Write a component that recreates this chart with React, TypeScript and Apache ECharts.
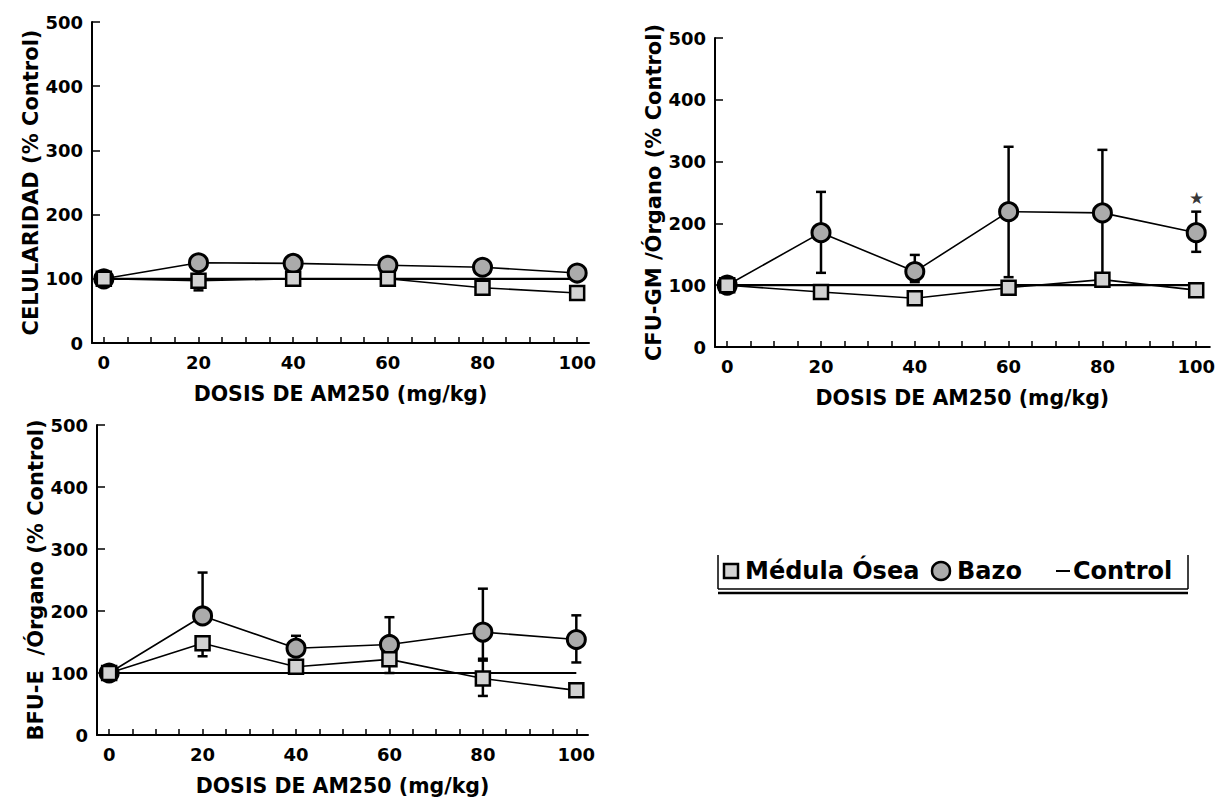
import React, { useEffect, useRef } from "react";
import * as echarts from "echarts";

const doses = [0, 20, 40, 60, 80, 100];
const xTickLabels = [0, 20, 40, 60, 80, 100];
const xMinorTicks = [0, 5, 10, 15, 20, 25, 30, 35, 40, 45, 50, 55, 60, 65, 70, 75, 80, 85, 90, 95, 100];

// Panel 1: CELULARIDAD
const p1Medula = [100, 97, 100, 100, 86, 78];
const p1Bazo = [100, 125, 124, 121, 118, 109];
const p1MedulaErrLow = [null, 82, null, null, null, null];
const p1MedulaErrHigh = [null, null, null, null, null, null];
const p1BazoErrLow = [null, null, null, null, null, null];
const p1BazoErrHigh = [null, null, null, null, null, null];

// Panel 2: CFU-GM
const p2Medula = [100, 89, 79, 96, 109, 92];
const p2Bazo = [100, 185, 122, 219, 217, 185];
const p2MedulaErrLow = [null, null, null, null, null, null];
const p2MedulaErrHigh = [null, null, null, null, null, null];
const p2BazoErrLow = [null, 120, 105, 113, 110, 154];
const p2BazoErrHigh = [null, 251, 149, 324, 319, 219];
const p2Star = [100, 240];

// Panel 3: BFU-E
const p3Medula = [100, 148, 110, 122, 91, 72];
const p3Bazo = [100, 192, 140, 146, 166, 154];
const p3MedulaErrLow = [null, 127, null, 100, 63, null];
const p3MedulaErrHigh = [null, null, null, null, 120, null];
const p3BazoErrLow = [null, null, null, null, 123, 117];
const p3BazoErrHigh = [null, 262, 160, 190, 236, 193];

const control = [100, 100, 100, 100, 100, 100];

const yNames = ["CELULARIDAD (% Control)", "CFU-GM /Órgano (% Control)", "BFU-E  /Órgano (% Control)"];
const xName = "DOSIS DE AM250 (mg/kg)";
const seriesNames = ["Médula Ósea", "Bazo", "Control"];

const FONT = "DejaVu Sans";

const grids = [
  { left: 92, top: 22, width: 497, height: 321, xmin: -2.5, xmax: 102.5 },
  { left: 715, top: 38, width: 497, height: 309, xmin: -2.6, xmax: 102.9 },
  { left: 97, top: 425, width: 491, height: 310, xmin: -2.6, xmax: 102.5 },
];

function pairs(vals: number[]) {
  return doses.map((d, i) => [d, vals[i]]);
}

function errData(mean: number[], low: (number | null)[], high: (number | null)[]) {
  const out: number[][] = [];
  doses.forEach((d, i) => {
    if (low[i] != null) out.push([d, mean[i], low[i] as number]);
    if (high[i] != null) out.push([d, mean[i], high[i] as number]);
  });
  return out;
}

function errSeries(idx: number, data: number[][]) {
  return {
    type: "custom",
    xAxisIndex: idx,
    yAxisIndex: idx,
    z: 1,
    silent: true,
    data,
    renderItem: (params: any, api: any) => {
      const x = api.value(0);
      const m = api.coord([x, api.value(1)]);
      const e = api.coord([x, api.value(2)]);
      const style = { stroke: "#000", lineWidth: 2.5 };
      return {
        type: "group",
        children: [
          { type: "line", shape: { x1: m[0], y1: m[1], x2: e[0], y2: e[1] }, style },
          { type: "line", shape: { x1: e[0] - 5, y1: e[1], x2: e[0] + 5, y2: e[1] }, style },
        ],
      };
    },
  };
}

function panelSeries(idx: number, med: number[], bazo: number[], mLo: any[], mHi: any[], bLo: any[], bHi: any[]) {
  return [
    {
      name: seriesNames[2],
      type: "line",
      xAxisIndex: idx,
      yAxisIndex: idx,
      data: pairs(control),
      symbol: "none",
      lineStyle: { color: "#000", width: 2.2 },
      z: 2,
    },
    errSeries(idx, errData(bazo, bLo, bHi)),
    errSeries(idx, errData(med, mLo, mHi)),
    {
      name: seriesNames[0],
      type: "line",
      xAxisIndex: idx,
      yAxisIndex: idx,
      data: pairs(med),
      symbol: "rect",
      symbolSize: 14,
      lineStyle: { color: "#000", width: 1.6 },
      itemStyle: { color: "#d2d2d2", borderColor: "#000", borderWidth: 2.5 },
      z: 4,
    },
    {
      name: seriesNames[1],
      type: "line",
      xAxisIndex: idx,
      yAxisIndex: idx,
      data: pairs(bazo),
      symbol: "circle",
      symbolSize: 18,
      lineStyle: { color: "#000", width: 1.6 },
      itemStyle: { color: "#ababab", borderColor: "#000", borderWidth: 3 },
      z: 3,
    },
  ];
}

export default function App() {
  const ref = useRef<HTMLDivElement>(null);
  useEffect(() => {
    if (!ref.current) return;
    const chart = echarts.init(ref.current, null, { renderer: "svg" });
    const labelStyle = { fontFamily: FONT, fontWeight: "bold", fontSize: 18, color: "#000" };
    const nameStyle = { fontFamily: FONT, fontWeight: "bold", fontSize: 20.5, color: "#000" };

    const xAxes = grids.map((g, i) => ({
      type: "value",
      gridIndex: i,
      min: g.xmin,
      max: g.xmax,
      name: xName,
      nameLocation: "middle",
      nameGap: 40,
      nameTextStyle: nameStyle,
      axisLine: { show: true, onZero: false, lineStyle: { color: "#000", width: 2 } },
      axisTick: { show: true, inside: true, length: 6, customValues: xMinorTicks, lineStyle: { color: "#000", width: 1.5 } },
      axisLabel: { ...labelStyle, margin: 10, customValues: xTickLabels },
      splitLine: { show: false },
    }));
    const yAxes = grids.map((g, i) => ({
      type: "value",
      gridIndex: i,
      min: 0,
      max: 500,
      interval: 100,
      name: yNames[i],
      nameLocation: "middle",
      nameRotate: 90,
      nameGap: 46,
      nameTextStyle: { ...nameStyle, fontSize: 21 },
      axisLine: { show: true, onZero: false, lineStyle: { color: "#000", width: 2 } },
      axisTick: { show: true, inside: true, length: 8, lineStyle: { color: "#000", width: 1.5 } },
      axisLabel: { ...labelStyle, margin: 9 },
      splitLine: { show: false },
    }));

    const series: any[] = [
      ...panelSeries(0, p1Medula, p1Bazo, p1MedulaErrLow, p1MedulaErrHigh, p1BazoErrLow, p1BazoErrHigh),
      ...panelSeries(1, p2Medula, p2Bazo, p2MedulaErrLow, p2MedulaErrHigh, p2BazoErrLow, p2BazoErrHigh),
      ...panelSeries(2, p3Medula, p3Bazo, p3MedulaErrLow, p3MedulaErrHigh, p3BazoErrLow, p3BazoErrHigh),
      {
        type: "scatter",
        xAxisIndex: 1,
        yAxisIndex: 1,
        data: [p2Star],
        symbolSize: 1,
        itemStyle: { color: "rgba(0,0,0,0)" },
        label: { show: true, position: "inside", formatter: "★", fontSize: 17, color: "#000" },
        z: 5,
      },
    ];

    const legendText = { fontFamily: FONT, fontWeight: "bold", fontSize: 24, fill: "#000" };
    const ly = 571;
    const graphic = [
      { type: "line", shape: { x1: 718, y1: 555, x2: 718, y2: 589 }, style: { stroke: "#000", lineWidth: 1.5 } },
      { type: "line", shape: { x1: 1188, y1: 555, x2: 1188, y2: 589 }, style: { stroke: "#000", lineWidth: 1.5 } },
      { type: "line", shape: { x1: 718, y1: 589, x2: 1188, y2: 589 }, style: { stroke: "#000", lineWidth: 1.5 } },
      { type: "line", shape: { x1: 718, y1: 593, x2: 1188, y2: 593 }, style: { stroke: "#000", lineWidth: 2.5 } },
      { type: "rect", shape: { x: 724, y: ly - 7, width: 14, height: 14 }, style: { fill: "#d2d2d2", stroke: "#000", lineWidth: 2.5 } },
      { type: "text", x: 745, y: ly, style: { ...legendText, text: seriesNames[0], verticalAlign: "middle" } },
      { type: "circle", shape: { cx: 941, cy: ly, r: 9 }, style: { fill: "#ababab", stroke: "#000", lineWidth: 2.5 } },
      { type: "text", x: 957, y: ly, style: { ...legendText, text: seriesNames[1], verticalAlign: "middle" } },
      { type: "line", shape: { x1: 1056, y1: ly, x2: 1070, y2: ly }, style: { stroke: "#000", lineWidth: 2 } },
      { type: "text", x: 1073, y: ly, style: { ...legendText, text: seriesNames[2], verticalAlign: "middle" } },
    ];

    chart.setOption({
      animation: false,
      backgroundColor: "#fff",
      grid: grids.map((g) => ({ left: g.left, top: g.top, width: g.width, height: g.height })),
      xAxis: xAxes,
      yAxis: yAxes,
      series,
      graphic,
    });
    return () => chart.dispose();
  }, []);
  return <div ref={ref} style={{ position: "absolute", left: 0, top: 0, width: 1218, height: 799, background: "#fff" }} />;
}
